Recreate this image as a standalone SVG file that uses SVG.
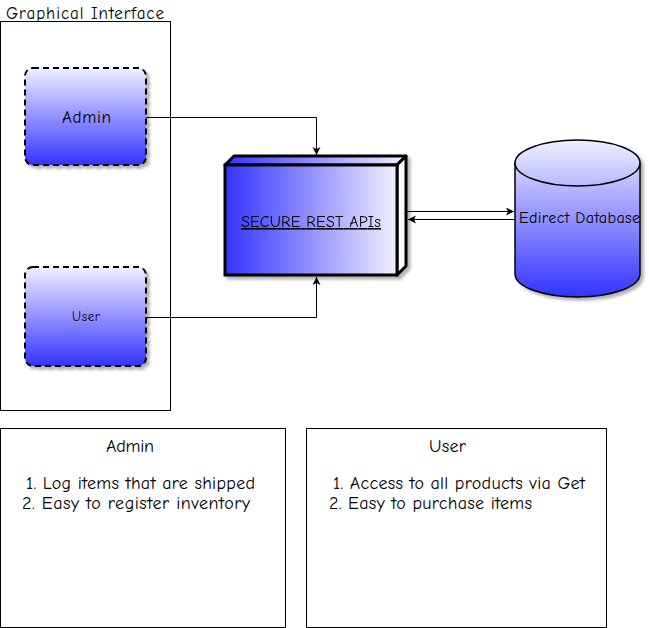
<svg xmlns="http://www.w3.org/2000/svg" width="649" height="628" viewBox="0 0 649 628">
<style>
text{font-family:"Comic Neue","Liberation Sans","DejaVu Sans",sans-serif;fill:#000}
.box{fill:#fff;stroke:#000;stroke-width:1}
.role{stroke:#000;stroke-width:2;stroke-dasharray:6 4}
.conn{fill:none;stroke:#000;stroke-width:1}
</style>
<defs>
<linearGradient id="gv" x1="0" y1="0" x2="0" y2="1">
<stop offset="0" stop-color="#f0f0ff"/><stop offset="1" stop-color="#3333ff"/>
</linearGradient>
<linearGradient id="gh" x1="0" y1="0" x2="1" y2="0">
<stop offset="0" stop-color="#3333ff"/><stop offset="1" stop-color="#f0f0ff"/>
</linearGradient>
<filter id="sh" x="-10%" y="-10%" width="130%" height="130%">
<feDropShadow dx="3" dy="3" stdDeviation="1.5" flood-color="#000" flood-opacity="0.3"/>
</filter>
<marker id="ar" markerWidth="10" markerHeight="10" refX="8" refY="4" orient="auto" markerUnits="userSpaceOnUse">
<path d="M0,0 L8,4 L0,8 L2,4 Z" fill="#000"/>
</marker>
</defs>

<g id="graphical-interface">
<rect class="box" x="0.5" y="21.5" width="170" height="389"/>
<text x="6" y="19" font-size="17" textLength="158" lengthAdjust="spacing">Graphical Interface</text>
</g>

<g id="admin-node">
<rect class="role" x="25" y="68" width="121" height="97" rx="8" fill="url(#gv)" filter="url(#sh)"/>
<text x="62" y="123" font-size="17" textLength="49" lengthAdjust="spacing">Admin</text>
</g>

<g id="user-node">
<rect class="role" x="25" y="267" width="121" height="99" rx="8" fill="url(#gv)" filter="url(#sh)"/>
<text x="72" y="321" font-size="13" textLength="28" lengthAdjust="spacing">User</text>
</g>

<g id="api-node" filter="url(#sh)">
<path d="M225,165 L234,156 L406,156 L397,165 Z" fill="url(#gh)" stroke="#000" stroke-width="3" stroke-linejoin="round"/>
<path d="M397,165 L406,156 L406,266 L397,275 Z" fill="#fff" stroke="#000" stroke-width="3" stroke-linejoin="round"/>
<rect x="225" y="165" width="172" height="110" fill="url(#gh)" stroke="#000" stroke-width="3"/>
<text x="241" y="227" font-size="16" text-decoration="underline" textLength="140" lengthAdjust="spacing">SECURE REST APIs</text>
</g>

<g id="database-node">
<path d="M515,163 A62.5,23 0 0 1 640,163 L640,274 A62.5,23 0 0 1 515,274 Z" fill="url(#gv)" stroke="#000" stroke-width="1.5" filter="url(#sh)"/>
<path d="M515,163 A62.5,23 0 0 0 640,163" fill="none" stroke="#000" stroke-width="1.5"/>
<text x="519" y="223" font-size="16" textLength="121" lengthAdjust="spacing">Edirect Database</text>
</g>

<g id="connectors">
<path class="conn" d="M146,117.5 H316.5 V155" marker-end="url(#ar)"/>
<path class="conn" d="M146,317.5 H316.5 V277" marker-end="url(#ar)"/>
<path class="conn" d="M407,211.5 H514" marker-end="url(#ar)"/>
<path class="conn" d="M515,219.5 H408" marker-end="url(#ar)"/>
</g>

<g id="admin-notes">
<rect class="box" x="0.5" y="428.5" width="285" height="199"/>
<text x="106" y="452" font-size="18" textLength="48" lengthAdjust="spacing">Admin</text>
<text x="26" y="489" font-size="18" textLength="229" lengthAdjust="spacing">1. Log items that are shipped</text>
<text x="22" y="509" font-size="18" textLength="228" lengthAdjust="spacing">2. Easy to register inventory</text>
</g>

<g id="user-notes">
<rect class="box" x="306.5" y="428.5" width="300" height="199"/>
<text x="429" y="452" font-size="18" textLength="37" lengthAdjust="spacing">User</text>
<text x="333" y="489" font-size="18" textLength="252" lengthAdjust="spacing">1. Access to all products via Get</text>
<text x="329" y="509" font-size="18" textLength="203" lengthAdjust="spacing">2. Easy to purchase items</text>
</g>
</svg>
